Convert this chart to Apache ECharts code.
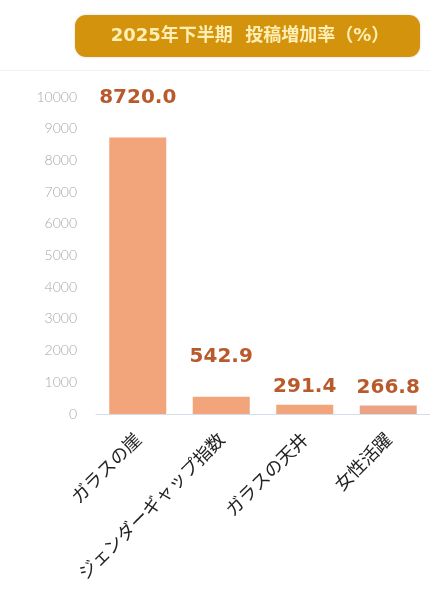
<!DOCTYPE html>
<html><head><meta charset="utf-8">
<script src="https://cdn.jsdelivr.net/npm/echarts@6/dist/echarts.min.js"></script>
<style>html,body{margin:0;padding:0;background:#fff}#c{width:430px;height:592px}</style>
</head><body><div id="c"></div>
<script>
const categories = ['ガラスの崖', 'ジェンダーギャップ指数', 'ガラスの天井', '女性活躍'];
const values = [8720.0, 542.9, 291.4, 266.8];
const labelGaps = [30, 30, 8, 8];
const yTicks = [0, 1000, 2000, 3000, 4000, 5000, 6000, 7000, 8000, 9000, 10000];
const titleText = '2025年下半期  投稿増加率（%）';

const chart = echarts.init(document.getElementById('c'), null, {renderer: 'canvas'});
chart.setOption({
  animation: false,
  graphic: [
    {type: 'rect', shape: {x: 75, y: 15, width: 345, height: 42, r: 11},
     style: {fill: '#D4930C', shadowBlur: 3, shadowColor: 'rgba(0,0,0,0.15)'}},
    {type: 'text', x: 250, y: 36,
     style: {text: titleText, fill: '#FFEFB5', font: 'bold 18px "DejaVu Sans", "Noto Sans CJK JP"', align: 'center', verticalAlign: 'middle'}},
    {type: 'rect', shape: {x: 0, y: 70, width: 430, height: 1}, style: {fill: '#F3F3EE'}}
  ],
  grid: {left: 96, top: 97, width: 342, height: 317},
  xAxis: {
    type: 'category', data: categories,
    axisLine: {lineStyle: {color: '#D6DDEA', width: 1}},
    axisTick: {show: false},
    axisLabel: {rotate: 45, interval: 0, color: '#222', fontSize: 18, fontFamily: 'Noto Sans CJK JP', margin: 22}
  },
  yAxis: {
    type: 'value', min: 0, max: 10000, interval: 1000,
    axisLine: {show: false}, axisTick: {show: false},
    splitLine: {show: false},
    axisLabel: {color: '#A8A8A8', fontSize: 14, fontWeight: 300, fontFamily: 'Lato', margin: 19,
      formatter: v => yTicks.includes(v) ? String(v) : ''}
  },
  series: [{
    type: 'bar', barWidth: 57,
    itemStyle: {color: '#F2A57A'},
    data: values.map((v, i) => ({
      value: v,
      itemStyle: i === 3 ? {color: '#EBA386'} : undefined,
      label: {distance: labelGaps[i]}
    })),
    label: {show: true, position: 'top', color: '#B85A2C', fontSize: 20, fontWeight: 'bold',
      fontFamily: 'DejaVu Sans', formatter: p => p.value.toFixed(1)}
  }]
});
</script></body></html>
